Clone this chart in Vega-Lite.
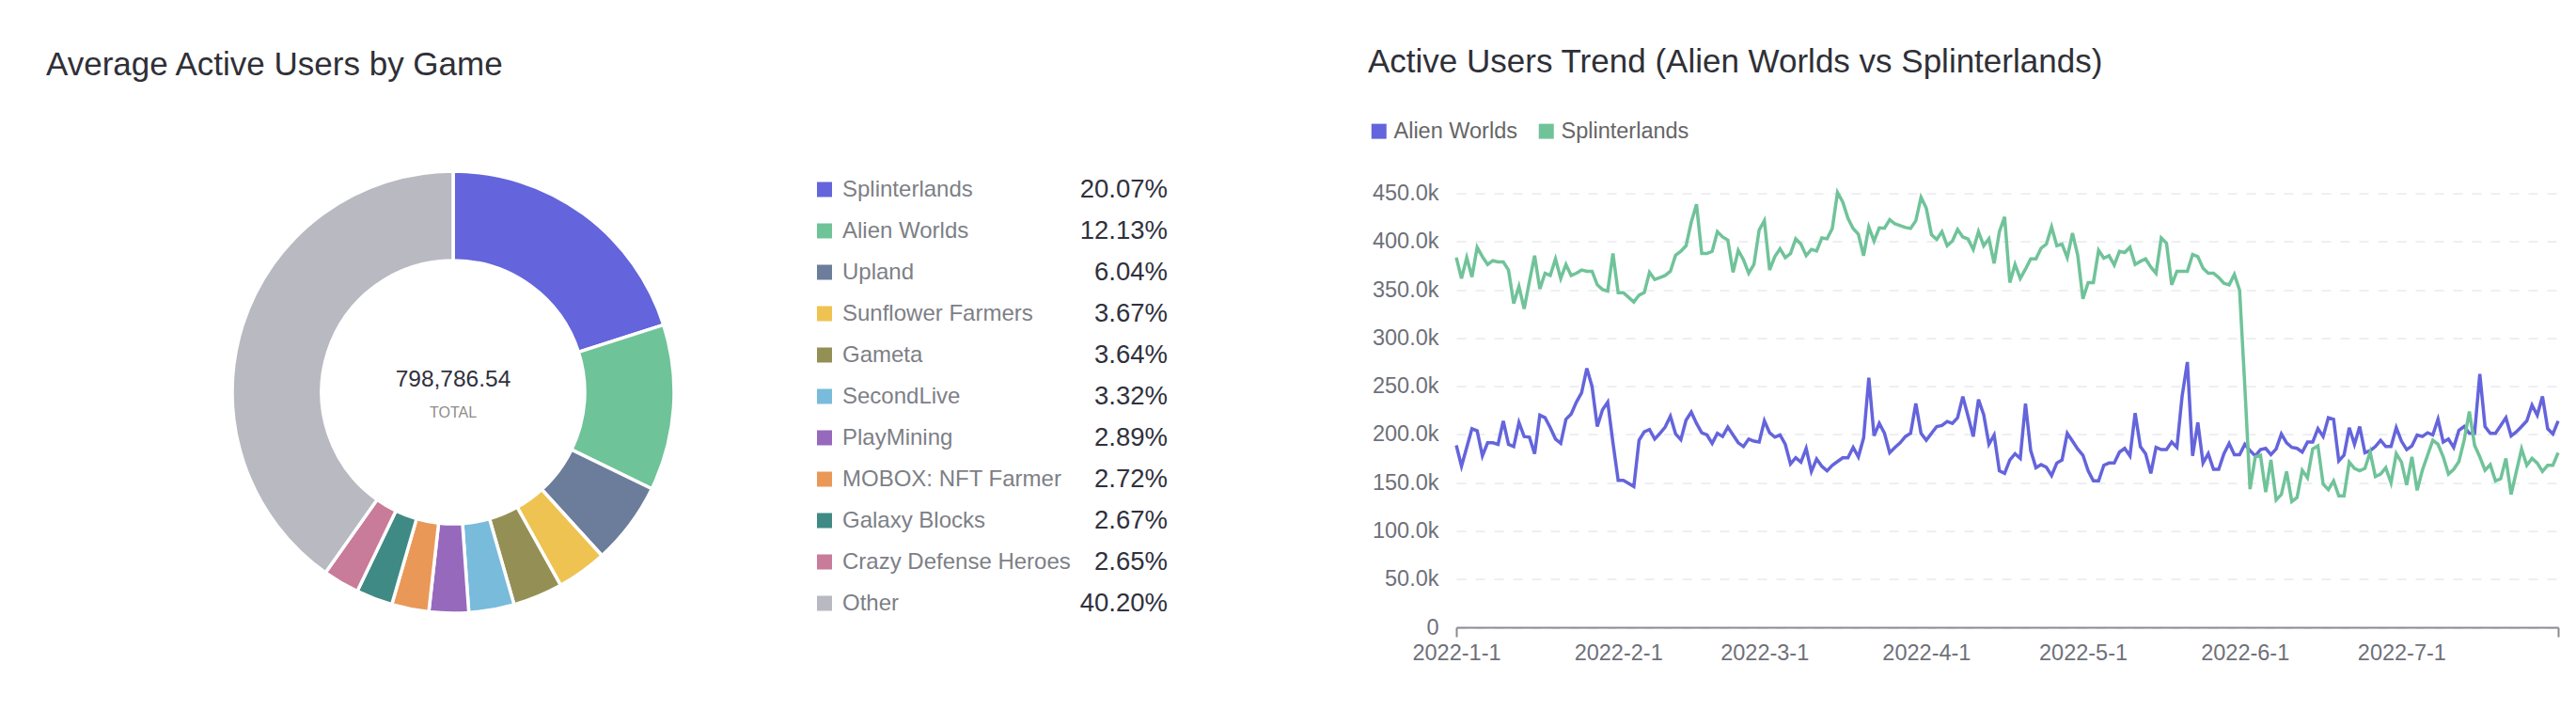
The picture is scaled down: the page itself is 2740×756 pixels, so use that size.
{
  "$schema": "https://vega.github.io/schema/vega-lite/v6.json",
  "background": "white",
  "padding": {"left": 49, "top": 48.5, "right": 0, "bottom": 0},
  "bounds": "flush",
  "spacing": 307,
  "config": {
    "font": "Liberation Sans",
    "view": {"stroke": null},
    "title": {"fontSize": 35, "fontWeight": "normal", "color": "#2f3037", "anchor": "start", "frame": "group"}
  },
  "resolve": {"scale": {"color": "independent", "x": "independent", "y": "independent"}, "legend": {"color": "independent"}},
  "datasets": {
    "games": [
      {"game": "Splinterlands", "share": 0.2007},
      {"game": "Alien Worlds", "share": 0.1213},
      {"game": "Upland", "share": 0.0604},
      {"game": "Sunflower Farmers", "share": 0.0367},
      {"game": "Gameta", "share": 0.0364},
      {"game": "SecondLive", "share": 0.0332},
      {"game": "PlayMining", "share": 0.0289},
      {"game": "MOBOX: NFT Farmer", "share": 0.0272},
      {"game": "Galaxy Blocks", "share": 0.0267},
      {"game": "Crazy Defense Heroes", "share": 0.0265},
      {"game": "Other", "share": 0.4020}
    ],
    "trend": [
      {"date": "2022-01-01", "Alien Worlds": 188700, "Splinterlands": 383300},
      {"date": "2022-01-02", "Alien Worlds": 167000, "Splinterlands": 361600},
      {"date": "2022-01-03", "Alien Worlds": 186500, "Splinterlands": 383300},
      {"date": "2022-01-04", "Alien Worlds": 205900, "Splinterlands": 363200},
      {"date": "2022-01-05", "Alien Worlds": 203700, "Splinterlands": 394000},
      {"date": "2022-01-06", "Alien Worlds": 177700, "Splinterlands": 384300},
      {"date": "2022-01-07", "Alien Worlds": 191300, "Splinterlands": 376200},
      {"date": "2022-01-08", "Alien Worlds": 191300, "Splinterlands": 380100},
      {"date": "2022-01-09", "Alien Worlds": 189700, "Splinterlands": 378800},
      {"date": "2022-01-10", "Alien Worlds": 214000, "Splinterlands": 378800},
      {"date": "2022-01-11", "Alien Worlds": 189700, "Splinterlands": 370400},
      {"date": "2022-01-12", "Alien Worlds": 187400, "Splinterlands": 335700},
      {"date": "2022-01-13", "Alien Worlds": 212400, "Splinterlands": 353500},
      {"date": "2022-01-14", "Alien Worlds": 197800, "Splinterlands": 330100},
      {"date": "2022-01-15", "Alien Worlds": 197200, "Splinterlands": 358400},
      {"date": "2022-01-16", "Alien Worlds": 180000, "Splinterlands": 385300},
      {"date": "2022-01-17", "Alien Worlds": 219900, "Splinterlands": 350900},
      {"date": "2022-01-18", "Alien Worlds": 217300, "Splinterlands": 367100},
      {"date": "2022-01-19", "Alien Worlds": 206900, "Splinterlands": 364800},
      {"date": "2022-01-20", "Alien Worlds": 195200, "Splinterlands": 382000},
      {"date": "2022-01-21", "Alien Worlds": 190700, "Splinterlands": 361600},
      {"date": "2022-01-22", "Alien Worlds": 215700, "Splinterlands": 376200},
      {"date": "2022-01-23", "Alien Worlds": 221200, "Splinterlands": 364800},
      {"date": "2022-01-24", "Alien Worlds": 233500, "Splinterlands": 367100},
      {"date": "2022-01-25", "Alien Worlds": 243200, "Splinterlands": 370400},
      {"date": "2022-01-26", "Alien Worlds": 268500, "Splinterlands": 369100},
      {"date": "2022-01-27", "Alien Worlds": 249700, "Splinterlands": 369100},
      {"date": "2022-01-28", "Alien Worlds": 208200, "Splinterlands": 355100},
      {"date": "2022-01-29", "Alien Worlds": 225400, "Splinterlands": 350200},
      {"date": "2022-01-30", "Alien Worlds": 233500, "Splinterlands": 348600},
      {"date": "2022-01-31", "Alien Worlds": 191300, "Splinterlands": 387500},
      {"date": "2022-02-01", "Alien Worlds": 152400, "Splinterlands": 347000},
      {"date": "2022-02-02", "Alien Worlds": 152400, "Splinterlands": 347000},
      {"date": "2022-02-03", "Alien Worlds": 149200, "Splinterlands": 342100},
      {"date": "2022-02-04", "Alien Worlds": 145900, "Splinterlands": 337300},
      {"date": "2022-02-05", "Alien Worlds": 193900, "Splinterlands": 344400},
      {"date": "2022-02-06", "Alien Worlds": 202700, "Splinterlands": 347000},
      {"date": "2022-02-07", "Alien Worlds": 205000, "Splinterlands": 368100},
      {"date": "2022-02-08", "Alien Worlds": 195200, "Splinterlands": 360600},
      {"date": "2022-02-09", "Alien Worlds": 201100, "Splinterlands": 362600},
      {"date": "2022-02-10", "Alien Worlds": 207600, "Splinterlands": 364800},
      {"date": "2022-02-11", "Alien Worlds": 218900, "Splinterlands": 369100},
      {"date": "2022-02-12", "Alien Worlds": 200400, "Splinterlands": 385900},
      {"date": "2022-02-13", "Alien Worlds": 194600, "Splinterlands": 389800},
      {"date": "2022-02-14", "Alien Worlds": 214700, "Splinterlands": 395600},
      {"date": "2022-02-15", "Alien Worlds": 223100, "Splinterlands": 420000},
      {"date": "2022-02-16", "Alien Worlds": 211400, "Splinterlands": 438500},
      {"date": "2022-02-17", "Alien Worlds": 201700, "Splinterlands": 387500},
      {"date": "2022-02-18", "Alien Worlds": 199400, "Splinterlands": 387500},
      {"date": "2022-02-19", "Alien Worlds": 190700, "Splinterlands": 389800},
      {"date": "2022-02-20", "Alien Worlds": 201100, "Splinterlands": 410200},
      {"date": "2022-02-21", "Alien Worlds": 197800, "Splinterlands": 404700},
      {"date": "2022-02-22", "Alien Worlds": 207600, "Splinterlands": 401500},
      {"date": "2022-02-23", "Alien Worlds": 199400, "Splinterlands": 368100},
      {"date": "2022-02-24", "Alien Worlds": 191300, "Splinterlands": 390800},
      {"date": "2022-02-25", "Alien Worlds": 187400, "Splinterlands": 381000},
      {"date": "2022-02-26", "Alien Worlds": 195200, "Splinterlands": 367100},
      {"date": "2022-02-27", "Alien Worlds": 193000, "Splinterlands": 376200},
      {"date": "2022-02-28", "Alien Worlds": 192000, "Splinterlands": 411900},
      {"date": "2022-03-01", "Alien Worlds": 214000, "Splinterlands": 421600},
      {"date": "2022-03-02", "Alien Worlds": 201700, "Splinterlands": 370400},
      {"date": "2022-03-03", "Alien Worlds": 197200, "Splinterlands": 384300},
      {"date": "2022-03-04", "Alien Worlds": 199400, "Splinterlands": 392400},
      {"date": "2022-03-05", "Alien Worlds": 189700, "Splinterlands": 383300},
      {"date": "2022-03-06", "Alien Worlds": 169300, "Splinterlands": 387500},
      {"date": "2022-03-07", "Alien Worlds": 175800, "Splinterlands": 402800},
      {"date": "2022-03-08", "Alien Worlds": 171200, "Splinterlands": 397300},
      {"date": "2022-03-09", "Alien Worlds": 185500, "Splinterlands": 385300},
      {"date": "2022-03-10", "Alien Worlds": 161500, "Splinterlands": 391800},
      {"date": "2022-03-11", "Alien Worlds": 174500, "Splinterlands": 390100},
      {"date": "2022-03-12", "Alien Worlds": 167000, "Splinterlands": 403700},
      {"date": "2022-03-13", "Alien Worlds": 162200, "Splinterlands": 402800},
      {"date": "2022-03-14", "Alien Worlds": 168000, "Splinterlands": 413500},
      {"date": "2022-03-15", "Alien Worlds": 171900, "Splinterlands": 450800},
      {"date": "2022-03-16", "Alien Worlds": 175800, "Splinterlands": 441000},
      {"date": "2022-03-17", "Alien Worlds": 175800, "Splinterlands": 424200},
      {"date": "2022-03-18", "Alien Worlds": 186500, "Splinterlands": 413500},
      {"date": "2022-03-19", "Alien Worlds": 176700, "Splinterlands": 407600},
      {"date": "2022-03-20", "Alien Worlds": 196200, "Splinterlands": 385300},
      {"date": "2022-03-21", "Alien Worlds": 258800, "Splinterlands": 415100},
      {"date": "2022-03-22", "Alien Worlds": 198500, "Splinterlands": 400500},
      {"date": "2022-03-23", "Alien Worlds": 211400, "Splinterlands": 414100},
      {"date": "2022-03-24", "Alien Worlds": 201100, "Splinterlands": 413800},
      {"date": "2022-03-25", "Alien Worlds": 181000, "Splinterlands": 422600},
      {"date": "2022-03-26", "Alien Worlds": 186500, "Splinterlands": 418300},
      {"date": "2022-03-27", "Alien Worlds": 191300, "Splinterlands": 416400},
      {"date": "2022-03-28", "Alien Worlds": 197800, "Splinterlands": 414500},
      {"date": "2022-03-29", "Alien Worlds": 201100, "Splinterlands": 413500},
      {"date": "2022-03-30", "Alien Worlds": 231900, "Splinterlands": 421600},
      {"date": "2022-03-31", "Alien Worlds": 201100, "Splinterlands": 445900},
      {"date": "2022-04-01", "Alien Worlds": 193900, "Splinterlands": 434600},
      {"date": "2022-04-02", "Alien Worlds": 201100, "Splinterlands": 407000},
      {"date": "2022-04-03", "Alien Worlds": 208200, "Splinterlands": 402100},
      {"date": "2022-04-04", "Alien Worlds": 209200, "Splinterlands": 410200},
      {"date": "2022-04-05", "Alien Worlds": 213400, "Splinterlands": 395600},
      {"date": "2022-04-06", "Alien Worlds": 211400, "Splinterlands": 400500},
      {"date": "2022-04-07", "Alien Worlds": 217300, "Splinterlands": 412500},
      {"date": "2022-04-08", "Alien Worlds": 239300, "Splinterlands": 404700},
      {"date": "2022-04-09", "Alien Worlds": 218900, "Splinterlands": 402500},
      {"date": "2022-04-10", "Alien Worlds": 197800, "Splinterlands": 391800},
      {"date": "2022-04-11", "Alien Worlds": 236100, "Splinterlands": 410200},
      {"date": "2022-04-12", "Alien Worlds": 220500, "Splinterlands": 395600},
      {"date": "2022-04-13", "Alien Worlds": 189700, "Splinterlands": 402800},
      {"date": "2022-04-14", "Alien Worlds": 199400, "Splinterlands": 377300},
      {"date": "2022-04-15", "Alien Worlds": 162200, "Splinterlands": 410000},
      {"date": "2022-04-16", "Alien Worlds": 159600, "Splinterlands": 425500},
      {"date": "2022-04-17", "Alien Worlds": 173500, "Splinterlands": 357400},
      {"date": "2022-04-18", "Alien Worlds": 180000, "Splinterlands": 376200},
      {"date": "2022-04-19", "Alien Worlds": 175100, "Splinterlands": 361600},
      {"date": "2022-04-20", "Alien Worlds": 231900, "Splinterlands": 371300},
      {"date": "2022-04-21", "Alien Worlds": 183200, "Splinterlands": 382000},
      {"date": "2022-04-22", "Alien Worlds": 165400, "Splinterlands": 382000},
      {"date": "2022-04-23", "Alien Worlds": 168600, "Splinterlands": 393100},
      {"date": "2022-04-24", "Alien Worlds": 166000, "Splinterlands": 397300},
      {"date": "2022-04-25", "Alien Worlds": 157300, "Splinterlands": 415100},
      {"date": "2022-04-26", "Alien Worlds": 170300, "Splinterlands": 395600},
      {"date": "2022-04-27", "Alien Worlds": 173500, "Splinterlands": 397300},
      {"date": "2022-04-28", "Alien Worlds": 201100, "Splinterlands": 383300},
      {"date": "2022-04-29", "Alien Worlds": 193000, "Splinterlands": 408600},
      {"date": "2022-04-30", "Alien Worlds": 184900, "Splinterlands": 385900},
      {"date": "2022-05-01", "Alien Worlds": 178400, "Splinterlands": 340500},
      {"date": "2022-05-02", "Alien Worlds": 162200, "Splinterlands": 357400},
      {"date": "2022-05-03", "Alien Worlds": 151800, "Splinterlands": 357400},
      {"date": "2022-05-04", "Alien Worlds": 151800, "Splinterlands": 390800},
      {"date": "2022-05-05", "Alien Worlds": 168000, "Splinterlands": 382700},
      {"date": "2022-05-06", "Alien Worlds": 170300, "Splinterlands": 385300},
      {"date": "2022-05-07", "Alien Worlds": 170300, "Splinterlands": 375500},
      {"date": "2022-05-08", "Alien Worlds": 181600, "Splinterlands": 389800},
      {"date": "2022-05-09", "Alien Worlds": 185500, "Splinterlands": 388500},
      {"date": "2022-05-10", "Alien Worlds": 177700, "Splinterlands": 394000},
      {"date": "2022-05-11", "Alien Worlds": 222100, "Splinterlands": 376200},
      {"date": "2022-05-12", "Alien Worlds": 187400, "Splinterlands": 379400},
      {"date": "2022-05-13", "Alien Worlds": 180000, "Splinterlands": 382000},
      {"date": "2022-05-14", "Alien Worlds": 159600, "Splinterlands": 373600},
      {"date": "2022-05-15", "Alien Worlds": 186500, "Splinterlands": 367100},
      {"date": "2022-05-16", "Alien Worlds": 184200, "Splinterlands": 403700},
      {"date": "2022-05-17", "Alien Worlds": 184200, "Splinterlands": 398200},
      {"date": "2022-05-18", "Alien Worlds": 192000, "Splinterlands": 355100},
      {"date": "2022-05-19", "Alien Worlds": 186500, "Splinterlands": 369100},
      {"date": "2022-05-20", "Alien Worlds": 240000, "Splinterlands": 369100},
      {"date": "2022-05-21", "Alien Worlds": 275000, "Splinterlands": 369100},
      {"date": "2022-05-22", "Alien Worlds": 177700, "Splinterlands": 386600},
      {"date": "2022-05-23", "Alien Worlds": 212400, "Splinterlands": 384300},
      {"date": "2022-05-24", "Alien Worlds": 170300, "Splinterlands": 372300},
      {"date": "2022-05-25", "Alien Worlds": 180000, "Splinterlands": 367100},
      {"date": "2022-05-26", "Alien Worlds": 163800, "Splinterlands": 367100},
      {"date": "2022-05-27", "Alien Worlds": 163800, "Splinterlands": 362600},
      {"date": "2022-05-28", "Alien Worlds": 180000, "Splinterlands": 356700},
      {"date": "2022-05-29", "Alien Worlds": 190700, "Splinterlands": 355100},
      {"date": "2022-05-30", "Alien Worlds": 179000, "Splinterlands": 365800},
      {"date": "2022-05-31", "Alien Worlds": 179000, "Splinterlands": 349600},
      {"date": "2022-06-01", "Alien Worlds": 189700, "Splinterlands": 250000},
      {"date": "2022-06-02", "Alien Worlds": 183200, "Splinterlands": 143300},
      {"date": "2022-06-03", "Alien Worlds": 177700, "Splinterlands": 176700},
      {"date": "2022-06-04", "Alien Worlds": 184200, "Splinterlands": 178400},
      {"date": "2022-06-05", "Alien Worlds": 185500, "Splinterlands": 140100},
      {"date": "2022-06-06", "Alien Worlds": 179000, "Splinterlands": 173500},
      {"date": "2022-06-07", "Alien Worlds": 184900, "Splinterlands": 132000},
      {"date": "2022-06-08", "Alien Worlds": 200400, "Splinterlands": 137800},
      {"date": "2022-06-09", "Alien Worlds": 191300, "Splinterlands": 161500},
      {"date": "2022-06-10", "Alien Worlds": 186500, "Splinterlands": 130400},
      {"date": "2022-06-11", "Alien Worlds": 185500, "Splinterlands": 134600},
      {"date": "2022-06-12", "Alien Worlds": 181600, "Splinterlands": 162800},
      {"date": "2022-06-13", "Alien Worlds": 192000, "Splinterlands": 155000},
      {"date": "2022-06-14", "Alien Worlds": 192000, "Splinterlands": 184900},
      {"date": "2022-06-15", "Alien Worlds": 205900, "Splinterlands": 188100},
      {"date": "2022-06-16", "Alien Worlds": 197800, "Splinterlands": 148500},
      {"date": "2022-06-17", "Alien Worlds": 217300, "Splinterlands": 142700},
      {"date": "2022-06-18", "Alien Worlds": 215700, "Splinterlands": 151800},
      {"date": "2022-06-19", "Alien Worlds": 172500, "Splinterlands": 136200},
      {"date": "2022-06-20", "Alien Worlds": 178400, "Splinterlands": 136200},
      {"date": "2022-06-21", "Alien Worlds": 206900, "Splinterlands": 171200},
      {"date": "2022-06-22", "Alien Worlds": 189700, "Splinterlands": 164700},
      {"date": "2022-06-23", "Alien Worlds": 208200, "Splinterlands": 162200},
      {"date": "2022-06-24", "Alien Worlds": 181000, "Splinterlands": 164700},
      {"date": "2022-06-25", "Alien Worlds": 183200, "Splinterlands": 181600},
      {"date": "2022-06-26", "Alien Worlds": 187400, "Splinterlands": 156300},
      {"date": "2022-06-27", "Alien Worlds": 193900, "Splinterlands": 158900},
      {"date": "2022-06-28", "Alien Worlds": 187400, "Splinterlands": 165400},
      {"date": "2022-06-29", "Alien Worlds": 187400, "Splinterlands": 149800},
      {"date": "2022-06-30", "Alien Worlds": 206900, "Splinterlands": 180000},
      {"date": "2022-07-01", "Alien Worlds": 193000, "Splinterlands": 171200},
      {"date": "2022-07-02", "Alien Worlds": 184200, "Splinterlands": 147600},
      {"date": "2022-07-03", "Alien Worlds": 188100, "Splinterlands": 176700},
      {"date": "2022-07-04", "Alien Worlds": 199400, "Splinterlands": 142000},
      {"date": "2022-07-05", "Alien Worlds": 197800, "Splinterlands": 162800},
      {"date": "2022-07-06", "Alien Worlds": 201700, "Splinterlands": 178400},
      {"date": "2022-07-07", "Alien Worlds": 199400, "Splinterlands": 193900},
      {"date": "2022-07-08", "Alien Worlds": 215700, "Splinterlands": 189700},
      {"date": "2022-07-09", "Alien Worlds": 192000, "Splinterlands": 176700},
      {"date": "2022-07-10", "Alien Worlds": 195200, "Splinterlands": 158900},
      {"date": "2022-07-11", "Alien Worlds": 186500, "Splinterlands": 163800},
      {"date": "2022-07-12", "Alien Worlds": 204300, "Splinterlands": 171900},
      {"date": "2022-07-13", "Alien Worlds": 208200, "Splinterlands": 193900},
      {"date": "2022-07-14", "Alien Worlds": 201100, "Splinterlands": 223800},
      {"date": "2022-07-15", "Alien Worlds": 201100, "Splinterlands": 188700},
      {"date": "2022-07-16", "Alien Worlds": 262700, "Splinterlands": 176700},
      {"date": "2022-07-17", "Alien Worlds": 208200, "Splinterlands": 162800},
      {"date": "2022-07-18", "Alien Worlds": 201100, "Splinterlands": 168600},
      {"date": "2022-07-19", "Alien Worlds": 201100, "Splinterlands": 151800},
      {"date": "2022-07-20", "Alien Worlds": 209200, "Splinterlands": 154000},
      {"date": "2022-07-21", "Alien Worlds": 217300, "Splinterlands": 175100},
      {"date": "2022-07-22", "Alien Worlds": 198500, "Splinterlands": 137800},
      {"date": "2022-07-23", "Alien Worlds": 202700, "Splinterlands": 161500},
      {"date": "2022-07-24", "Alien Worlds": 208200, "Splinterlands": 184900},
      {"date": "2022-07-25", "Alien Worlds": 214000, "Splinterlands": 168000},
      {"date": "2022-07-26", "Alien Worlds": 230300, "Splinterlands": 175100},
      {"date": "2022-07-27", "Alien Worlds": 219900, "Splinterlands": 170300},
      {"date": "2022-07-28", "Alien Worlds": 239300, "Splinterlands": 161500},
      {"date": "2022-07-29", "Alien Worlds": 205900, "Splinterlands": 168000},
      {"date": "2022-07-30", "Alien Worlds": 200400, "Splinterlands": 168000},
      {"date": "2022-07-31", "Alien Worlds": 214000, "Splinterlands": 181000}
    ]
  },
  "hconcat": [
    {
      "title": {"text": "Average Active Users by Game", "dx": -345, "offset": 88},
      "width": 176,
      "height": 423,
      "layer": [
        {
          "data": {"name": "games"},
          "transform": [{"window": [{"op": "row_number", "as": "idx"}]}],
          "mark": {"type": "arc", "innerRadius": 140, "outerRadius": 235, "stroke": "white", "strokeWidth": 3.5},
          "encoding": {
            "theta": {"field": "share", "type": "quantitative", "stack": true},
            "order": {"field": "idx", "type": "quantitative"},
            "color": {
              "field": "game",
              "type": "nominal",
              "scale": {
                "domain": ["Splinterlands", "Alien Worlds", "Upland", "Sunflower Farmers", "Gameta", "SecondLive", "PlayMining", "MOBOX: NFT Farmer", "Galaxy Blocks", "Crazy Defense Heroes", "Other"],
                "range": ["#6464dc", "#6fc398", "#6c7c9b", "#eec351", "#949055", "#79bbdb", "#9769bd", "#ea9858", "#3f8a84", "#c97b9a", "#b8b9c1"]
              },
              "legend": null
            }
          }
        },
        {
          "data": {"values": [{"total": 798786.54}]},
          "mark": {"type": "text", "fontSize": 24.5, "color": "#30313d", "dy": -13.5, "baseline": "middle"},
          "encoding": {"text": {"field": "total", "type": "quantitative", "format": ",.2f"}}
        },
        {
          "data": {"values": [{"label": "TOTAL"}]},
          "mark": {"type": "text", "fontSize": 16, "color": "#8c8c8c", "dy": 22, "baseline": "middle"},
          "encoding": {"text": {"field": "label", "type": "nominal"}}
        }
      ]
    },
    {
      "width": 365,
      "height": 440,
      "data": {"name": "games"},
      "encoding": {
        "y": {"field": "game", "type": "nominal", "sort": null, "axis": null, "scale": {"type": "point", "range": [-4, 436], "padding": 0}}
      },
      "layer": [
        {
          "mark": {"type": "square", "size": 256, "opacity": 1},
          "encoding": {
            "x": {"datum": 0, "type": "quantitative", "scale": {"domain": [0, 1]}, "axis": null},
            "color": {
              "field": "game",
              "type": "nominal",
              "scale": {
                "domain": ["Splinterlands", "Alien Worlds", "Upland", "Sunflower Farmers", "Gameta", "SecondLive", "PlayMining", "MOBOX: NFT Farmer", "Galaxy Blocks", "Crazy Defense Heroes", "Other"],
                "range": ["#6464dc", "#6fc398", "#6c7c9b", "#eec351", "#949055", "#79bbdb", "#9769bd", "#ea9858", "#3f8a84", "#c97b9a", "#b8b9c1"]
              },
              "legend": null
            }
          }
        },
        {
          "mark": {"type": "text", "align": "left", "dx": 19, "fontSize": 24, "color": "#7d7f86"},
          "encoding": {
            "x": {"datum": 0, "type": "quantitative", "scale": {"domain": [0, 1]}, "axis": null},
            "text": {"field": "game", "type": "nominal"}
          }
        },
        {
          "mark": {"type": "text", "align": "right", "fontSize": 27.5, "color": "#30313d"},
          "encoding": {
            "x": {"datum": 1, "type": "quantitative", "scale": {"domain": [0, 1]}, "axis": null},
            "text": {"field": "share", "type": "quantitative", "format": ".2%"}
          }
        }
      ]
    },
    {
      "title": {"text": "Active Users Trend (Alien Worlds vs Splinterlands)", "dx": -94, "offset": 44},
      "width": 1172,
      "height": 461.5,
      "data": {"name": "trend"},
      "transform": [{"fold": ["Alien Worlds", "Splinterlands"], "as": ["series", "users"]}],
      "mark": {"type": "line", "strokeWidth": 3.5},
      "encoding": {
        "x": {
          "field": "date",
          "type": "temporal",
          "scale": {
            "type": "utc",
            "domain": [{"year": 2022, "month": 1, "date": 1, "utc": true}, {"year": 2022, "month": 7, "date": 31, "utc": true}]
          },
          "axis": {
            "title": null,
            "values": [
              {"year": 2022, "month": 1, "date": 1, "utc": true},
              {"year": 2022, "month": 2, "date": 1, "utc": true},
              {"year": 2022, "month": 3, "date": 1, "utc": true},
              {"year": 2022, "month": 4, "date": 1, "utc": true},
              {"year": 2022, "month": 5, "date": 1, "utc": true},
              {"year": 2022, "month": 6, "date": 1, "utc": true},
              {"year": 2022, "month": 7, "date": 1, "utc": true},
              {"year": 2022, "month": 7, "date": 31, "utc": true}
            ],
            "labelExpr": "time(datum.value) > 1659000000000 ? '' : utcFormat(datum.value, '%Y-%-m-%-d')",
            "grid": false,
            "ticks": true,
            "tickSize": 10,
            "tickWidth": 2,
            "tickColor": "#8a8b92",
            "tickOpacity": {"condition": {"test": "time(datum.value) < 1641000000000 || time(datum.value) > 1659000000000", "value": 1}, "value": 0},
            "domainColor": "#8a8b92",
            "domainWidth": 2,
            "labelFontSize": 23.5,
            "labelColor": "#6e7079",
            "labelPadding": 5,
            "labelFlush": false,
            "labelOverlap": false
          }
        },
        "y": {
          "field": "users",
          "type": "quantitative",
          "scale": {"domain": [0, 450000], "nice": false},
          "axis": {
            "title": null,
            "values": [0, 50000, 100000, 150000, 200000, 250000, 300000, 350000, 400000, 450000],
            "labelExpr": "datum.value == 0 ? '0' : format(datum.value / 1000, '.1f') + 'k'",
            "grid": true,
            "gridDash": [10, 10],
            "gridColor": "#ebedf0",
            "gridWidth": 1.75,
            "domain": false,
            "ticks": false,
            "labelFontSize": 23.5,
            "labelColor": "#6e7079",
            "labelPadding": 19
          }
        },
        "color": {
          "field": "series",
          "type": "nominal",
          "scale": {"domain": ["Alien Worlds", "Splinterlands"], "range": ["#6464dc", "#70c399"]},
          "legend": {
            "orient": "none",
            "legendX": -94,
            "legendY": -78,
            "direction": "horizontal",
            "title": null,
            "symbolType": "square",
            "symbolSize": 256,
            "symbolStrokeWidth": 0,
            "symbolOpacity": 1,
            "labelFontSize": 23.5,
            "labelColor": "#666666",
            "labelOffset": 4,
            "columnPadding": 19,
            "encode": {
              "symbols": {
                "update": {
                  "fill": {"signal": "datum.value === 'Alien Worlds' ? '#6464dc' : '#70c399'"},
                  "strokeWidth": {"value": 0}
                }
              }
            }
          }
        }
      }
    }
  ]
}
